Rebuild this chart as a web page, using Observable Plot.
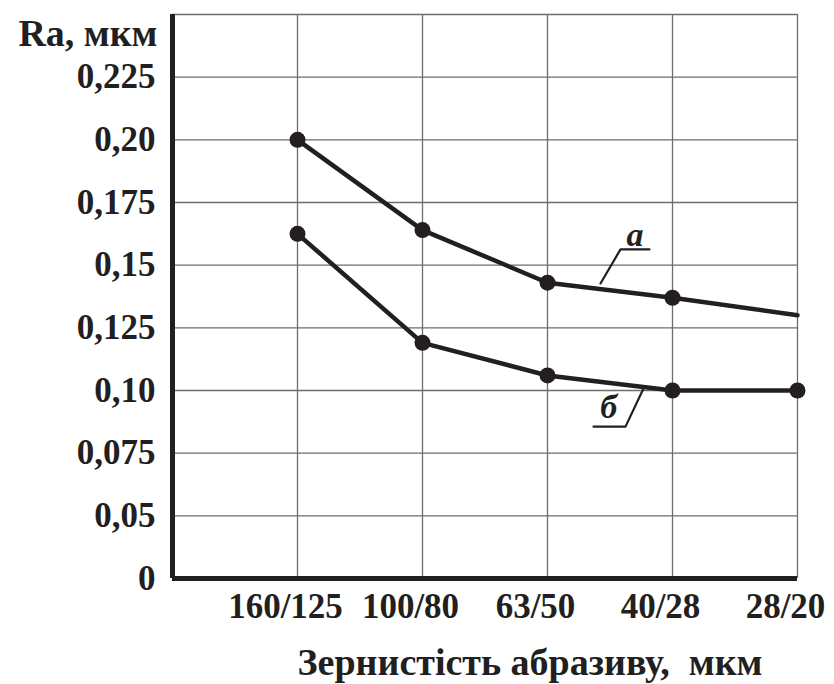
<!DOCTYPE html>
<html>
<head>
<meta charset="utf-8">
<script src="https://cdn.jsdelivr.net/npm/d3@7"></script>
<script src="https://cdn.jsdelivr.net/npm/@observablehq/plot@0.6"></script>
<style>
  html, body { margin: 0; padding: 0; background: #fff; }
  svg { display: block; }
</style>
</head>
<body>
<div id="chart"></div>
<script>
// Categories (grain size, мкм)
const categories = ["160/125", "100/80", "63/50", "40/28", "28/20"];
// Ra values, мкм
const seriesA = [0.200, 0.164, 0.143, 0.137, 0.130];
const seriesB = [0.1625, 0.119, 0.106, 0.100, 0.100];
// markers shown on series "а" (none at the last point)
const markersA = [true, true, true, true, false];
const markersB = [true, true, true, true, true];
// Y axis (broken: "0" sits at the first step)
const yTicks = [0.025, 0.05, 0.075, 0.10, 0.125, 0.15, 0.175, 0.20, 0.225];
const yTickLabels = ["0", "0,05", "0,075", "0,10", "0,125", "0,15", "0,175", "0,20", "0,225"];
const yTop = 0.25;
// Series labels and leader lines (in data units: category position, value)
const seriesLabels = ["а", "б"];
const labelPosX = [3.70, 3.49];
const labelPosY = [0.1618, 0.0935];
const leaderA = [[3.424, 0.1427], [3.584, 0.1563], [3.816, 0.1563]];
const leaderB = [[3.768, 0.1008], [3.624, 0.0856], [3.368, 0.0856]];

const yTitle = "Ra, мкм";
const xTitle = "Зернистість абразиву,  мкм";

const ink = "#231f20";
const gridColor = "#6d6d6d";
const font = "'Liberation Serif', 'Times New Roman', serif";

const xPos = categories.map((_, i) => i + 1);
const rowsA = categories.map((c, i) => ({x: i + 1, y: seriesA[i], m: markersA[i]}));
const rowsB = categories.map((c, i) => ({x: i + 1, y: seriesB[i], m: markersB[i]}));
const labels = seriesLabels.map((t, i) => ({t, x: labelPosX[i], y: labelPosY[i]}));

const chart = Plot.plot({
  width: 834,
  height: 684,
  marginLeft: 172,
  marginRight: 37,
  marginTop: 14,
  marginBottom: 106,
  style: {fontFamily: font, color: ink, background: "#fff"},
  x: {type: "linear", domain: [0, 5]},
  y: {type: "linear", domain: [0.025, yTop]},
  marks: [
    Plot.gridY(yTicks.slice(1), {stroke: gridColor, strokeOpacity: 1, strokeWidth: 1.3}),
    Plot.ruleY([yTop], {stroke: gridColor, strokeWidth: 1.3}),
    Plot.gridX(xPos, {stroke: gridColor, strokeOpacity: 1, strokeWidth: 1.3}),
    Plot.ruleX([0], {stroke: ink, strokeWidth: 5}),
    Plot.ruleY([0.025], {stroke: ink, strokeWidth: 5}),
    Plot.line(rowsA, {x: "x", y: "y", stroke: ink, strokeWidth: 4.5}),
    Plot.line(rowsB, {x: "x", y: "y", stroke: ink, strokeWidth: 4.5}),
    Plot.dot(rowsA.filter(d => d.m), {x: "x", y: "y", r: 8, fill: ink}),
    Plot.dot(rowsB.filter(d => d.m), {x: "x", y: "y", r: 8, fill: ink}),
    Plot.line(leaderA, {x: d => d[0], y: d => d[1], stroke: ink, strokeWidth: 2.2}),
    Plot.line(leaderB, {x: d => d[0], y: d => d[1], stroke: ink, strokeWidth: 2.2}),
    Plot.text(labels, {x: "x", y: "y", text: "t", fontSize: 34, fontStyle: "italic", fontWeight: "bold", fill: ink}),
    Plot.axisY(yTicks, {
      tickSize: 0, tickPadding: 17,
      tickFormat: (d) => yTickLabels[yTicks.indexOf(d)],
      fontSize: 35, fontWeight: "bold", fill: ink, label: null
    }),
    Plot.axisX(xPos, {
      tickSize: 0, tickPadding: 15, dx: -12,
      tickFormat: (d) => categories[d - 1],
      fontSize: 35, fontWeight: "bold", fill: ink, label: null
    }),
    Plot.text([yTitle], {frameAnchor: "top-left", lineAnchor: "middle", dx: -15, dy: 19, textAnchor: "end", fontSize: 38, fontWeight: "bold", fill: ink}),
    Plot.text([xTitle], {frameAnchor: "bottom", lineAnchor: "middle", dx: 45, dy: 84, fontSize: 38, fontWeight: "bold", fill: ink})
  ]
});
document.getElementById("chart").appendChild(chart);
</script>
</body>
</html>
